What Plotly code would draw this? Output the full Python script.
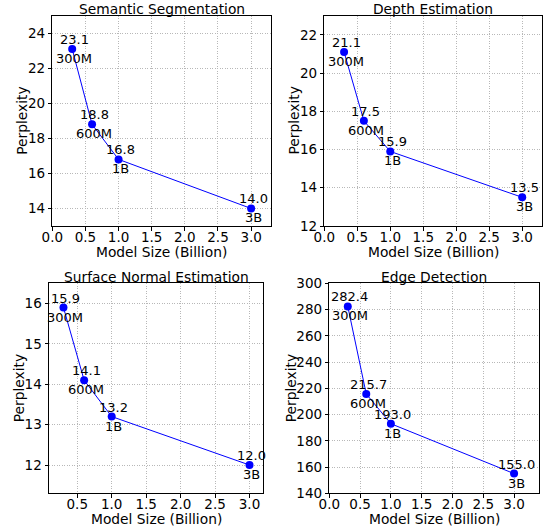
import plotly.graph_objects as go

W, H = 543, 529

model_sizes = [0.3, 0.6, 1.0, 3.0]
size_labels = ["300M", "600M", "1B", "3B"]

titles = ["Semantic Segmentation", "Depth Estimation", "Surface Normal Estimation", "Edge Detection"]
seg_values = [23.1, 18.8, 16.8, 14.0]
depth_values = [21.1, 17.5, 15.9, 13.5]
normal_values = [15.9, 14.1, 13.2, 12.0]
edge_values = [282.4, 215.7, 193.0, 155.0]
all_values = [seg_values, depth_values, normal_values, edge_values]

x_ranges = [[0, 3.3], [0, 3.3], [0.09, 3.2], [0, 3.4]]
y_ranges = [[13, 25], [12, 23], [11.3, 16.5], [140, 300]]
y_dticks = [2, 2, 1, 20]

# pixel boxes (left, right, top, bottom)
boxes = [(52.3, 271.0, 15.7, 226.0),
         (324.3, 542.0, 15.7, 226.0),
         (49.0, 263.3, 283.3, 493.3),
         (329.3, 538.7, 283.3, 493.3)]
ylabel_x = [22, 293.7, 19, 291]

def px(x):
    return x / W

def py(y):
    return 1 - y / H

FONT = "DejaVu Sans"
fig = go.Figure()
annotations = []

for i in range(4):
    vals = all_values[i]
    n = i + 1
    xa = "x" if n == 1 else f"x{n}"
    ya = "y" if n == 1 else f"y{n}"
    fig.add_trace(go.Scatter(
        x=model_sizes, y=vals, mode="lines+markers",
        line=dict(color="#0000ff", width=1),
        marker=dict(color="#0000ff", size=8),
        xaxis=xa, yaxis=ya, showlegend=False, hoverinfo="skip", cliponaxis=False))
    for xv, yv, sl in zip(model_sizes, vals, size_labels):
        annotations.append(dict(x=xv, y=yv, xref=xa, yref=ya, text=f"{yv:.1f}",
                                showarrow=False, yanchor="bottom", xanchor="center",
                                xshift=2, yshift=1, borderpad=0,
                                font=dict(family=FONT, size=13, color="black")))
        annotations.append(dict(x=xv, y=yv, xref=xa, yref=ya, text=sl,
                                showarrow=False, yanchor="top", xanchor="center",
                                xshift=2, yshift=-1, borderpad=0,
                                font=dict(family=FONT, size=13, color="black")))
    l, r, t, b = boxes[i]
    axis_common = dict(showline=True, linecolor="black", linewidth=1, mirror=True,
                       ticks="outside", ticklen=3.5, tickcolor="black", tickwidth=1,
                       showgrid=True, gridcolor="#b8b8b8", griddash="1px,1.5px", gridwidth=0.8,
                       zeroline=False, automargin=False,
                       tickfont=dict(family=FONT, size=13.5, color="black"))
    xkey = "xaxis" if n == 1 else f"xaxis{n}"
    ykey = "yaxis" if n == 1 else f"yaxis{n}"
    fig.update_layout({
        xkey: dict(domain=[px(l), px(r)], anchor=ya, range=x_ranges[i],
                   tick0=0, dtick=0.5, tickformat=".1f", ticklabelstandoff=-5,
                   **axis_common),
        ykey: dict(domain=[py(b), py(t)], anchor=xa, range=y_ranges[i],
                   tick0=0, dtick=y_dticks[i], **axis_common),
    })
    cx = (l + r) / 2
    annotations.append(dict(x=px(cx), y=py(t + 2.5), xref="paper", yref="paper",
                            text=titles[i], showarrow=False, yanchor="bottom",
                            xanchor="center", borderpad=0,
                            font=dict(family=FONT, size=13.8, color="black")))
    annotations.append(dict(x=px(cx), y=py(b + 25.5), xref="paper", yref="paper",
                            text="Model Size (Billion)", showarrow=False, yanchor="middle",
                            xanchor="center", borderpad=0,
                            font=dict(family=FONT, size=13.8, color="black")))
    annotations.append(dict(x=px(ylabel_x[i]), y=py((t + b) / 2), xref="paper", yref="paper",
                            text="Perplexity", showarrow=False, textangle=-90,
                            yanchor="middle", xanchor="center",
                            font=dict(family=FONT, size=13.8, color="black")))

fig.update_layout(width=W, height=H, margin=dict(l=0, r=0, t=0, b=0, autoexpand=False),
                  paper_bgcolor="white", plot_bgcolor="white",
                  annotations=annotations)

fig.write_html("out.html", config={"displayModeBar": False},
               post_script="document.body.style.margin='0';")
